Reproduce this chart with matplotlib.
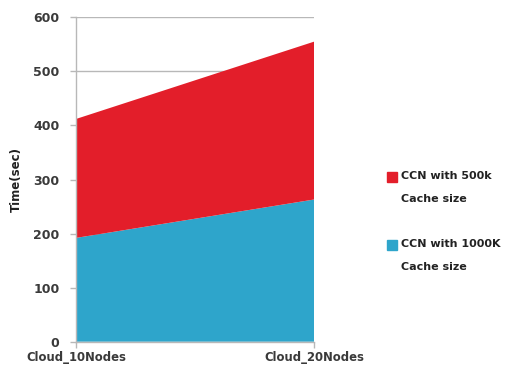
import matplotlib.pyplot as plt
from matplotlib.patches import Rectangle

# data
categories = ["Cloud_10Nodes", "Cloud_20Nodes"]
cache_1000k = [192, 263]          # bottom layer
cache_500k = [220, 292]           # stacked on top (totals 412, 555)
series_names = ["CCN with 500k\nCache size", "CCN with 1000K\nCache size"]
yticks = [0, 100, 200, 300, 400, 500, 600]

red = "#e31e2a"
blue = "#2ea5cb"
grey = "#b8b8b8"
text_col = "#3a3a3a"

fig = plt.figure(figsize=(5.05, 3.69), dpi=100)
ax = fig.add_axes([0.1505, 0.074, 0.4713, 0.879])

xs = range(len(categories))
ax.stackplot(xs, cache_1000k, cache_500k, colors=[blue, red], zorder=2)

ax.set_xlim(0, len(categories) - 1)
ax.set_ylim(0, 600)
ax.set_yticks(yticks)
ax.set_xticks(list(xs))
ax.set_xticklabels(categories)
ax.grid(axis="y", color=grey, linewidth=1, zorder=0)
ax.set_axisbelow(True)

for side in ["top", "right"]:
    ax.spines[side].set_visible(False)
for side in ["left", "bottom"]:
    ax.spines[side].set_color(grey)
    ax.spines[side].set_linewidth(1)

ax.tick_params(axis="both", colors=grey, length=4, width=1,
               labelcolor=text_col, labelsize=9)
ax.tick_params(axis="y", pad=8)
ax.tick_params(axis="x", pad=3, labelsize=8.4)
for lbl in ax.get_xticklabels() + ax.get_yticklabels():
    lbl.set_fontweight("bold")

ax.set_ylabel("Time(sec)", fontsize=8.5, fontweight="bold", color="#222222", labelpad=7)

# legend drawn by hand so the square sits on the first line
legend_y = [1 - 177 / 369, 1 - 245 / 369]
for name, col, y in zip(series_names, [red, blue], legend_y):
    fig.patches.append(Rectangle((387 / 505, y - 5 / 369), 10 / 505, 10 / 369,
                                 transform=fig.transFigure, color=col))
    fig.text(401 / 505, y + 6 / 369, name, fontsize=8, fontweight="bold",
             color="#222222", va="top", linespacing=2.6)

fig.savefig("out.png", dpi=100)
